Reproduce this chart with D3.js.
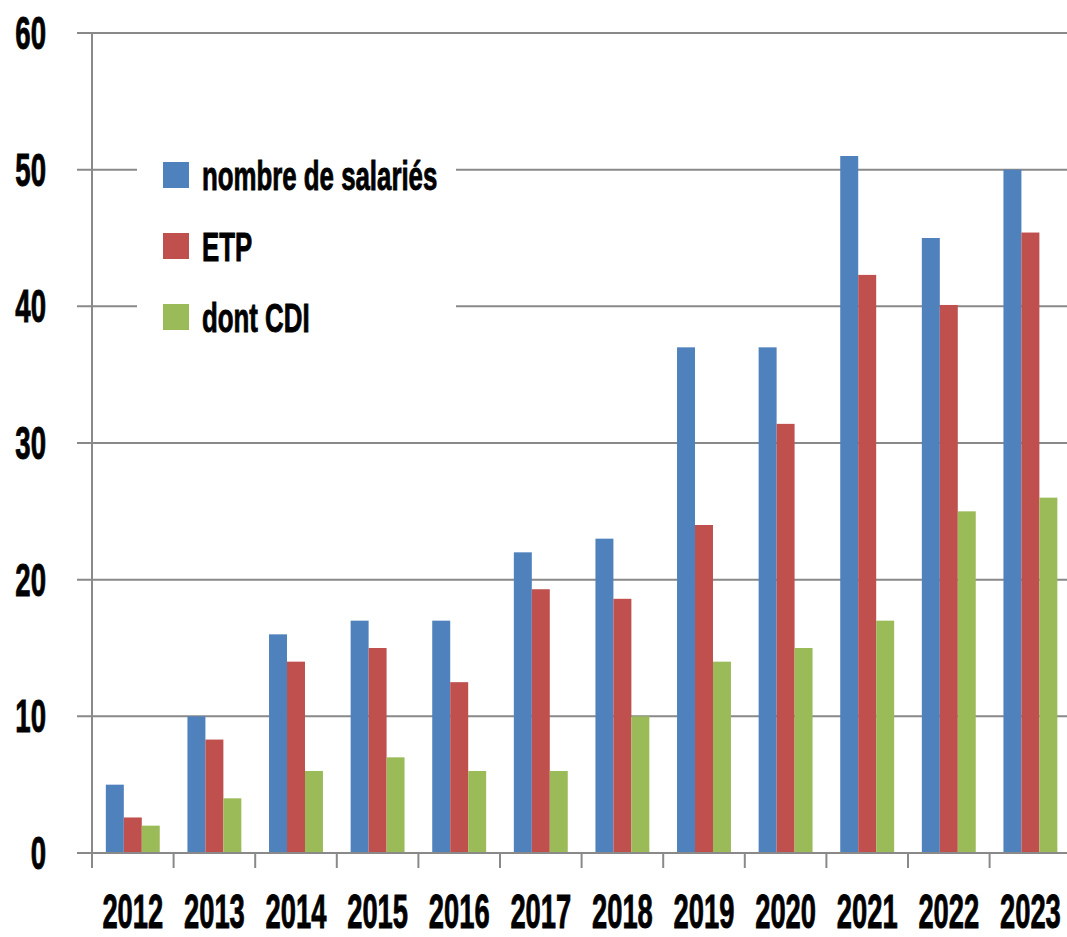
<!DOCTYPE html>
<html>
<head>
<meta charset="utf-8">
<script src="https://cdn.jsdelivr.net/npm/d3@7"></script>
<style>
  body { margin: 0; background: #fff; }
  svg { display: block; }
  text { font-family: "Liberation Sans", Arial, sans-serif; font-weight: bold; fill: #000; stroke: #000; stroke-width: 0.9px; }
</style>
</head>
<body>
<div id="chart"></div>
<script>
// data
const years = ['2012', '2013', '2014', '2015', '2016', '2017', '2018', '2019', '2020', '2021', '2022', '2023'];
const seriesNames = ['nombre de salariés', 'ETP', 'dont CDI'];
const salaries = [5, 10, 16, 17, 17, 22, 23, 37, 37, 51, 45, 50];
const etp = [2.6, 8.3, 14, 15, 12.5, 19.3, 18.6, 24, 31.4, 42.3, 40.1, 45.4];
const cdi = [2, 4, 6, 7, 6, 6, 10, 14, 15, 17, 25, 26];
const yTicks = [0, 10, 20, 30, 40, 50, 60];

const colors = ['#4F81BD', '#C0504D', '#9BBB59'];
const gridColor = '#898989';
const squeeze = 0.6; // condensed look for the bold labels

const width = 1067, height = 937;
const plotLeft = 92, plotTop = 33, plotBottom = 853, step = 81.6;

const svg = d3.select('#chart').append('svg')
    .attr('width', width)
    .attr('height', height);

const x0 = d3.scaleBand()
    .domain(years)
    .range([plotLeft, plotLeft + step * years.length])
    .paddingInner(0)
    .paddingOuter(0);

const x1 = d3.scaleBand()
    .domain(seriesNames)
    .range([0, x0.bandwidth()])
    .paddingInner(0)
    .paddingOuter(0.77);

const y = d3.scaleLinear()
    .domain([0, 60])
    .range([plotBottom, plotTop]);

// horizontal grid
svg.append('g')
    .selectAll('line')
    .data(yTicks)
    .enter()
    .append('line')
    .attr('x1', plotLeft - 15)
    .attr('x2', x0.range()[1])
    .attr('y1', d => y(d))
    .attr('y2', d => y(d))
    .attr('stroke', gridColor)
    .attr('stroke-width', 2);

// vertical axis line
svg.append('line')
    .attr('x1', plotLeft).attr('x2', plotLeft)
    .attr('y1', y(60)).attr('y2', plotBottom + 15)
    .attr('stroke', gridColor)
    .attr('stroke-width', 2);

// category boundary ticks
svg.append('g')
    .selectAll('line')
    .data(years)
    .enter()
    .append('line')
    .attr('x1', d => x0(d))
    .attr('x2', d => x0(d))
    .attr('y1', plotBottom)
    .attr('y2', plotBottom + 15)
    .attr('stroke', gridColor)
    .attr('stroke-width', 2);

// y labels
const yAxis = svg.append('g')
    .attr('transform', `translate(${plotLeft},0)`)
    .call(d3.axisLeft(y).tickValues(yTicks).tickSize(0).tickFormat(d3.format('d')));
yAxis.select('.domain').remove();
yAxis.selectAll('text')
    .attr('x', 0)
    .attr('dy', '0.36em')
    .attr('font-size', 46)
    .attr('transform', `translate(-46,-1) scale(${squeeze},1)`)
    .attr('fill', '#000');

// x labels
const xAxis = svg.append('g')
    .attr('transform', `translate(0,${plotBottom})`)
    .call(d3.axisBottom(x0).tickSize(0));
xAxis.select('.domain').remove();
xAxis.selectAll('text')
    .attr('y', 0)
    .attr('dy', 0)
    .attr('font-size', 48)
    .attr('transform', 'translate(0,75) scale(0.57,1)')
    .attr('fill', '#000');

// bars
const rows = years.map((yr, i) => ({year: yr, values: [salaries[i], etp[i], cdi[i]]}));

svg.append('g')
    .selectAll('g')
    .data(rows)
    .enter()
    .append('g')
    .attr('transform', d => `translate(${x0(d.year)},0)`)
    .selectAll('rect')
    .data(d => d.values.map((v, k) => ({name: seriesNames[k], value: v, k: k})))
    .enter()
    .append('rect')
    .attr('x', d => x1(d.name))
    .attr('width', x1.bandwidth())
    .attr('y', d => y(d.value))
    .attr('height', d => y(0) - y(d.value))
    .attr('fill', d => colors[d.k]);

// redraw baseline over bars
svg.append('line')
    .attr('x1', plotLeft - 15)
    .attr('x2', x0.range()[1])
    .attr('y1', plotBottom).attr('y2', plotBottom)
    .attr('stroke', gridColor)
    .attr('stroke-width', 2);

// legend
const legend = svg.append('g');
legend.append('rect')
    .attr('x', 137).attr('y', 140)
    .attr('width', 319).attr('height', 205)
    .attr('fill', '#fff');

const item = legend.selectAll('.item')
    .data(seriesNames)
    .enter()
    .append('g')
    .attr('class', 'item')
    .attr('transform', (d, i) => `translate(163,${162 + i * 71})`);

item.append('rect')
    .attr('width', 26)
    .attr('height', 26)
    .attr('fill', (d, i) => colors[i]);

item.append('text')
    .attr('font-size', 41)
    .attr('transform', 'translate(39,28) scale(0.63,1)')
    .text(d => d);
</script>
</body>
</html>
